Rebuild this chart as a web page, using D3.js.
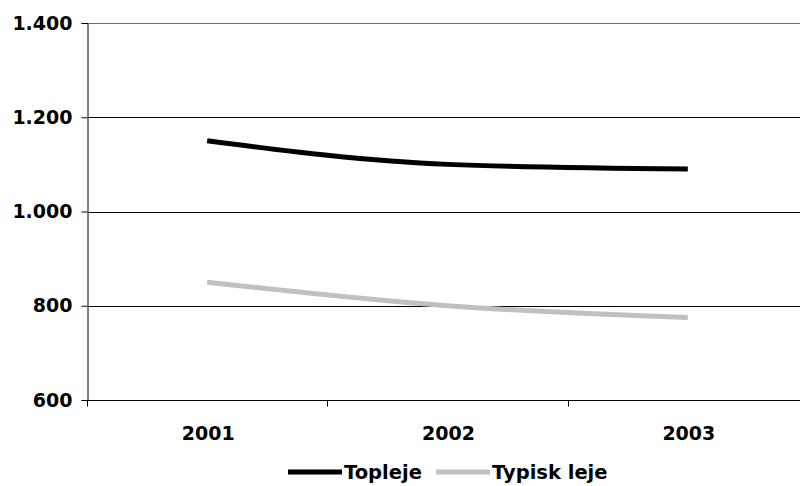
<!DOCTYPE html>
<html>
<head>
<meta charset="utf-8">
<script src="https://cdn.jsdelivr.net/npm/d3@7/dist/d3.min.js"></script>
<style>
  html, body { margin: 0; padding: 0; background: #fff; }
  svg { display: block; font-family: "DejaVu Sans", sans-serif; font-weight: bold; }
</style>
</head>
<body>
<svg id="chart" width="800" height="486"></svg>
<script>
// Rent levels per year
const years = ["2001", "2002", "2003"];
const topleje = [1150, 1100, 1090];
const typiskLeje = [850, 800, 775];
const yTicks = [600, 800, 1000, 1200, 1400];
const seriesNames = ["Topleje", "Typisk leje"];
const seriesColors = ["#000000", "#c0c0c0"];

const svg = d3.select("#chart");
const W = 800, H = 486;
const plot = { left: 88, right: 809, top: 23, bottom: 400 };

const x = d3.scaleBand().domain(years).range([plot.left, plot.right]);
const y = d3.scaleLinear().domain([600, 1400]).range([plot.bottom, plot.top]);

const fmt = v => d3.format(",")(v).replace(/,/g, ".");

// Horizontal gridlines
svg.append("g")
  .selectAll("line")
  .data(yTicks.slice(1))
  .join("line")
  .attr("x1", plot.left).attr("x2", W)
  .attr("y1", d => Math.round(y(d)) + 0.5).attr("y2", d => Math.round(y(d)) + 0.5)
  .attr("stroke", d => d === 1400 ? "#707070" : "#000")
  .attr("stroke-width", 1);

// Y axis
const yAxis = svg.append("g")
  .attr("transform", `translate(${plot.left - 0.5},0)`)
  .call(d3.axisLeft(y).tickValues(yTicks).tickFormat(fmt).tickSize(6).tickPadding(8));
yAxis.selectAll("line").attr("stroke", "#000");
yAxis.select(".domain").attr("stroke", "#000");
yAxis.selectAll("text").attr("font-size", 19).attr("font-weight", "bold").attr("fill", "#000")
  .attr("font-family", "DejaVu Sans, sans-serif").attr("dx", -1);

// X axis with ticks at category boundaries
const xAxisY = Math.round(y(600)) + 0.5;
const xg = svg.append("g");
xg.append("line").attr("x1", plot.left).attr("x2", W).attr("y1", xAxisY).attr("y2", xAxisY).attr("stroke", "#000");
const bounds = years.map(d => x(d));
xg.selectAll("line.tick").data(bounds).join("line").attr("class", "tick")
  .attr("x1", d => Math.round(d) - 0.5).attr("x2", d => Math.round(d) - 0.5)
  .attr("y1", xAxisY).attr("y2", xAxisY + 6).attr("stroke", "#000");
xg.selectAll("text").data(years).join("text")
  .attr("x", d => x(d) + x.bandwidth() / 2)
  .attr("y", 440)
  .attr("text-anchor", "middle")
  .attr("font-size", 19)
  .text(d => d);

// Series lines
const line = d3.line()
  .x((d, i) => x(years[i]) + x.bandwidth() / 2 - 1)
  .y(d => y(d))
  .curve(d3.curveMonotoneX);

[topleje, typiskLeje].forEach((vals, i) => {
  svg.append("path")
    .datum(vals)
    .attr("d", line)
    .attr("fill", "none")
    .attr("stroke", seriesColors[i])
    .attr("stroke-width", 5);
});

// Legend
const legend = svg.append("g");
const legendItems = [
  { name: seriesNames[0], color: seriesColors[0], x0: 288 },
  { name: seriesNames[1], color: seriesColors[1], x0: 436 }
];
legendItems.forEach(it => {
  legend.append("line")
    .attr("x1", it.x0).attr("x2", it.x0 + 54)
    .attr("y1", 472).attr("y2", 472)
    .attr("stroke", it.color).attr("stroke-width", 5);
  legend.append("text")
    .attr("x", it.x0 + 56).attr("y", 479)
    .attr("font-size", 19.5)
    .text(it.name);
});
</script>
</body>
</html>
